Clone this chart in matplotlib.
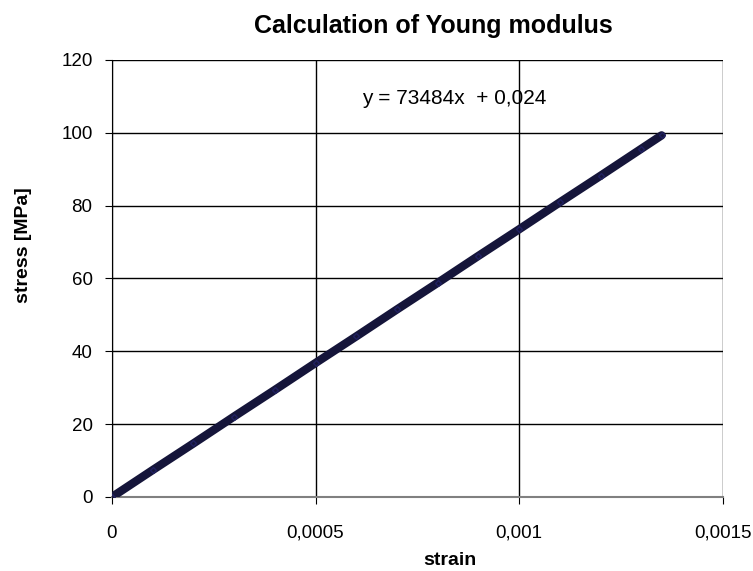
import matplotlib
matplotlib.use("Agg")
import matplotlib.pyplot as plt

plt.rcParams["font.family"] = ["Liberation Sans", "DejaVu Sans"]

strain = [0, 0.0001, 0.0002, 0.0003, 0.0004, 0.0005, 0.0006, 0.0007,
          0.0008, 0.0009, 0.001, 0.0011, 0.0012, 0.0013, 0.00135]
stress = [0, 7.4, 14.7, 22.1, 29.4, 36.8, 44.1, 51.5,
          58.8, 66.2, 73.5, 80.9, 88.2, 95.6, 99.3]

x_ticks = [0, 0.0005, 0.001, 0.0015]
x_tick_labels = ["0", "0,0005", "0,001", "0,0015"]
y_ticks = [0, 20, 40, 60, 80, 100, 120]

fig = plt.figure(figsize=(7.53, 5.71), dpi=100)
ax = fig.add_axes([0.1487, 0.1296, 0.811, 0.7654])

ax.plot(strain, stress, color="#15153a", lw=6, marker="D", ms=3,
        markeredgecolor="#202060", solid_capstyle="round", zorder=3)

ax.set_xlim(0, 0.0015)
ax.set_ylim(0, 120)
ax.set_xticks(x_ticks)
ax.set_xticklabels(x_tick_labels)
ax.set_yticks(y_ticks)
ax.tick_params(labelsize=13.5, length=5, direction="out", color="black")
ax.tick_params(axis="x", pad=15)
ax.tick_params(axis="y", pad=9)
ax.grid(True, color="black", lw=1)
ax.set_axisbelow(True)

for side in ("top", "right"):
    ax.spines[side].set_visible(False)
ax.spines["left"].set_color("black")
ax.spines["bottom"].set_color("#808080")
ax.spines["bottom"].set_linewidth(1.5)

ax.text(0.000614, 109.5, "y = 73484x  + 0,024", fontsize=15, va="center", ha="left")

fig.text(0.576, 0.954, "Calculation of Young modulus", fontsize=18,
         fontweight="bold", ha="center", va="center")
ax.set_ylabel("stress [MPa]", fontsize=14, fontweight="bold")
ax.yaxis.set_label_coords(-0.131, 0.577)
ax.set_xlabel("strain", fontsize=14, fontweight="bold")
ax.xaxis.set_label_coords(0.553, -0.126)

fig.savefig("out.png", dpi=100)
